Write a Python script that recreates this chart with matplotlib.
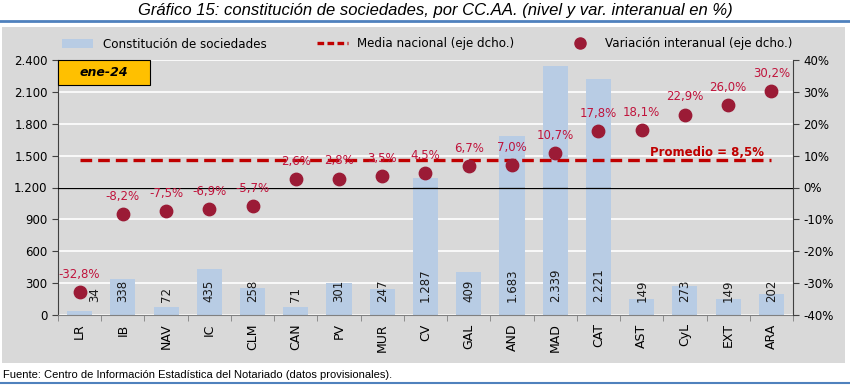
import matplotlib
matplotlib.use("Agg")
import matplotlib.pyplot as plt
from matplotlib.patches import Rectangle, Patch
from matplotlib.lines import Line2D
from matplotlib.ticker import FuncFormatter, MultipleLocator

regions = ["LR", "IB", "NAV", "IC", "CLM", "CAN", "PV", "MUR", "CV", "GAL",
           "AND", "MAD", "CAT", "AST", "CyL", "EXT", "ARA"]
sociedades = [34, 338, 72, 435, 258, 71, 301, 247, 1287, 409,
              1683, 2339, 2221, 149, 273, 149, 202]
var_interanual = [-32.8, -8.2, -7.5, -6.9, -5.7, 2.6, 2.8, 3.5, 4.5, 6.7,
                  7.0, 10.7, 17.8, 18.1, 22.9, 26.0, 30.2]
media_nacional = 8.5

title = "Gráfico 15: constitución de sociedades, por CC.AA. (nivel y var. interanual en %)"
source = "Fuente: Centro de Información Estadística del Notariado (datos provisionales)."

W, H = 850, 385
fig = plt.figure(figsize=(W / 100, H / 100), dpi=100)
fig.patch.set_facecolor("white")

narrow = ["Liberation Sans Narrow", "Liberation Sans", "DejaVu Sans"]
red_txt = "#C0143C"
dot_col = "#9B1B36"
bar_col = "#B8CCE4"
line_col = "#C00000"
panel = "#D9D9D9"

# gray panel + blue rules
fig.add_artist(Rectangle((2 / W, 1 - 363 / H), 843 / W, 336 / H, transform=fig.transFigure,
                         facecolor=panel, edgecolor="none", zorder=0))
fig.add_artist(Line2D([0, 1], [1 - 21 / H] * 2, transform=fig.transFigure, color="#4F81BD", lw=2))
fig.add_artist(Line2D([0, 1], [1 - 383 / H] * 2, transform=fig.transFigure, color="#4F81BD", lw=1.5))
fig.text(0.512, 1 - 11 / H, title, ha="center", va="center", fontsize=12, style="italic", family=narrow)
fig.text(3 / W, 1 - 375 / H, source, ha="left", va="center", fontsize=8, family=narrow)

ax = fig.add_axes([58 / W, 1 - 315 / H, 735 / W, 255 / H])
ax.set_facecolor(panel)
x = range(len(regions))
ax.bar(x, sociedades, width=0.58, color=bar_col, zorder=2)
ax.set_xlim(-0.5, len(regions) - 0.5)
ax.set_ylim(0, 2400)
ax.yaxis.set_major_locator(MultipleLocator(300))
ax.yaxis.set_major_formatter(FuncFormatter(lambda v, p: f"{int(v):,}".replace(",", ".")))
ax.grid(axis="y", color="white", lw=1.2, zorder=1)
ax.set_axisbelow(True)
ax.set_xticks(list(x))
ax.set_xticklabels(regions, rotation=90, fontsize=9, family="DejaVu Sans")
ax.tick_params(axis="x", length=0, pad=6)
ax.set_xticks([i + 0.5 for i in range(-1, len(regions))], minor=True)
ax.tick_params(axis="x", which="minor", length=4, color="#808080")
ax.tick_params(axis="y", labelsize=8.5, length=4, color="#404040")
for s in ["top", "right"]:
    ax.spines[s].set_visible(False)
ax.spines["left"].set_color("#404040")
ax.spines["bottom"].set_color("#808080")

for i, v in enumerate(sociedades):
    dx = 11 if i == 0 else 0
    ax.annotate(f"{v:,}".replace(",", "."), (i, 0), xytext=(dx, 9), textcoords="offset points",
                rotation=90, ha="center", va="bottom", fontsize=8.5, color="#1a1a1a", zorder=5)

ax2 = ax.twinx()
ax2.set_ylim(-40, 40)
ax2.yaxis.set_major_locator(MultipleLocator(10))
ax2.yaxis.set_major_formatter(FuncFormatter(lambda v, p: f"{int(v)}%"))
ax2.tick_params(axis="y", labelsize=8.5, length=4, color="#404040")
for s in ["top", "left", "bottom"]:
    ax2.spines[s].set_visible(False)
ax2.spines["right"].set_color("#404040")
ax2.axhline(0, color="black", lw=0.9, zorder=2)
ax2.plot([0, len(regions) - 1], [media_nacional] * 2, color=line_col, lw=2.4,
         dashes=(3.5, 1.8), zorder=3)
ax2.scatter(x, var_interanual, s=80, color=dot_col, zorder=4)
for i, v in enumerate(var_interanual):
    ax2.annotate(f"{v:.1f}%".replace(".", ","), (i, v), xytext=(0, 8), textcoords="offset points",
                 ha="center", va="bottom", fontsize=8.5, color=red_txt, zorder=5)
ax2.text(14.5, 11, f"Promedio = {media_nacional:.1f}%".replace(".", ","), ha="center", va="center",
         fontsize=8.5, fontweight="bold", color=line_col)

# ene-24 tag in the top-left corner of the plot
ax2.add_patch(Rectangle((0, 0.902), 0.125, 0.098, transform=ax2.transAxes, facecolor="#FFC000",
                        edgecolor="black", lw=0.8, zorder=6, clip_on=False))
ax2.text(0.0625, 0.951, "ene-24", transform=ax2.transAxes, ha="center", va="center", fontsize=9,
         fontweight="bold", style="italic", zorder=7)

handles = [Patch(facecolor=bar_col, edgecolor="none"),
           Line2D([], [], color=line_col, lw=2.4, dashes=(2, 1)),
           Line2D([], [], marker="o", ls="none", color=dot_col, markersize=8)]
labels = ["Constitución de sociedades", "Media nacional (eje dcho.)", "Variación interanual (eje dcho.)"]
fig.legend(handles, labels, ncol=3, loc="center", bbox_to_anchor=(0.503, 1 - 44 / H), frameon=False,
           fontsize=8.6, columnspacing=4.2, handlelength=2.6)

fig.savefig("out.png", dpi=100)
